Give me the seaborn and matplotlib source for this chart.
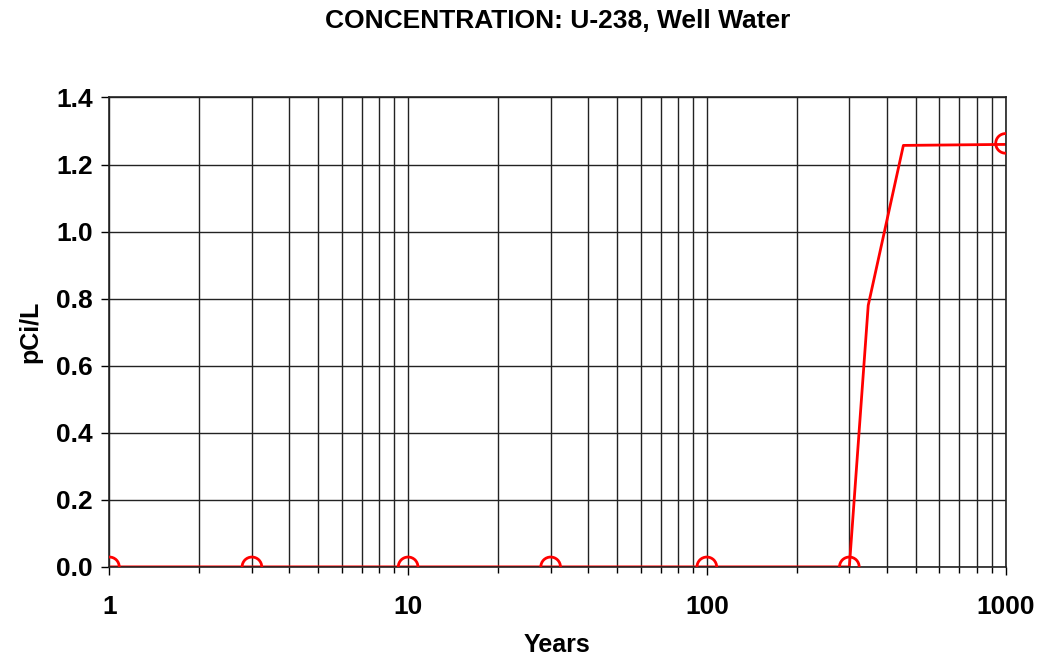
import numpy as np
import pandas as pd
import matplotlib
matplotlib.use("Agg")
import matplotlib.pyplot as plt
import seaborn as sns
from matplotlib.ticker import LogLocator, FixedLocator, NullFormatter

# === Data ===
years = [1, 3, 10, 30, 100, 300, 347, 455, 1000]
conc = [0.0, 0.0, 0.0, 0.0, 0.0, 0.0, 0.78, 1.257, 1.26]
marker_years = [1, 3, 10, 30, 100, 300, 1000]
marker_conc = [0.0, 0.0, 0.0, 0.0, 0.0, 0.0, 1.263]
y_ticks = [0.0, 0.2, 0.4, 0.6, 0.8, 1.0, 1.2, 1.4]
x_ticks = [1, 10, 100, 1000]

line_df = pd.DataFrame({"Years": years, "pCi/L": conc})
mark_df = pd.DataFrame({"Years": marker_years, "pCi/L": marker_conc})

sns.set_style("white")
plt.rcParams["font.family"] = ["Liberation Sans", "DejaVu Sans"]
plt.rcParams["text.color"] = "black"
plt.rcParams["xtick.color"] = "black"
plt.rcParams["ytick.color"] = "black"
plt.rcParams["axes.labelcolor"] = "black"

fig, ax = plt.subplots(figsize=(10.42, 6.63), dpi=100)
fig.subplots_adjust(left=0.105, right=0.965, top=0.853, bottom=0.145)

sns.lineplot(data=line_df, x="Years", y="pCi/L", color="red", linewidth=2, ax=ax)
sns.scatterplot(data=mark_df, x="Years", y="pCi/L", s=200, facecolors="none",
                edgecolor="red", linewidth=2, ax=ax, zorder=5)

ax.set_xscale("log")
ax.set_xlim(1, 1000)
ax.set_ylim(0, 1.4)
ax.set_yticks(y_ticks)
ax.set_yticklabels([f"{v:.1f}" for v in y_ticks])
ax.xaxis.set_major_locator(FixedLocator(x_ticks))
ax.set_xticklabels([str(v) for v in x_ticks])
ax.xaxis.set_minor_locator(LogLocator(base=10, subs=np.arange(2, 10)))
ax.xaxis.set_minor_formatter(NullFormatter())

ax.grid(True, which="both", axis="x", color="#222222", linewidth=1)
ax.grid(True, which="major", axis="y", color="#222222", linewidth=1)
ax.tick_params(axis="y", which="major", direction="out", length=6, width=1,
               labelsize=19, pad=6, left=True)
ax.tick_params(axis="x", which="major", direction="out", length=6, width=1,
               labelsize=19, pad=14, bottom=True)
ax.tick_params(axis="x", which="minor", direction="out", length=4, width=1, bottom=True)
for lbl in ax.get_xticklabels() + ax.get_yticklabels():
    lbl.set_fontweight("bold")
for sp in ax.spines.values():
    sp.set_color("#222222")
    sp.set_linewidth(1.2)

ax.set_title("CONCENTRATION: U-238, Well Water", fontsize=19, fontweight="bold", pad=50)
ax.set_xlabel("Years", fontsize=18, fontweight="bold", labelpad=10)
ax.set_ylabel("pCi/L", fontsize=18, fontweight="bold", labelpad=10)

plt.savefig("out.png", dpi=100)
plt.close()
